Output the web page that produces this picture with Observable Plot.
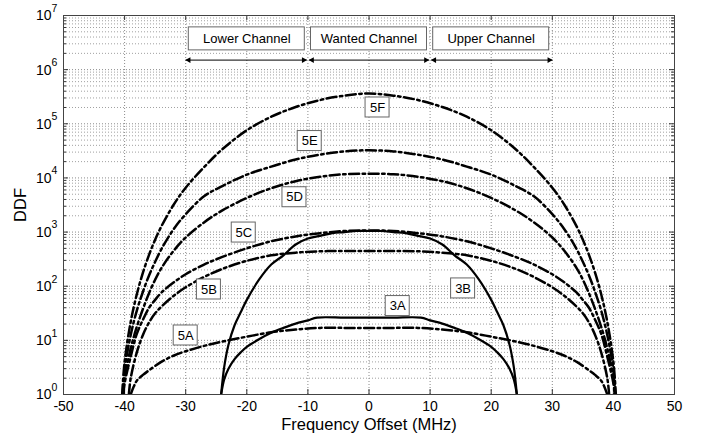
<!DOCTYPE html>
<html><head><meta charset="utf-8">
<script src="https://cdn.jsdelivr.net/npm/d3@7"></script>
<script src="https://cdn.jsdelivr.net/npm/@observablehq/plot@0.6"></script>
<style>body{margin:0;background:#fff}</style>
</head><body><div id="chart"></div>
<script>
// ---- data ----
const x5F = [-40.4,-40,-39,-38,-37,-36,-35,-34,-32,-30,-27,-24,-20,-16,-12,-8,-4,0,4,8,12,16,20,24,27,30,32,34,35,36,37,38,39,40,40.4];
const y5F = [1,4,22,71,178,380,724,1260,3160,6610,15800,33900,75900,135000,204000,275000,331000,363000,331000,275000,204000,135000,75900,33900,15800,6610,3160,1260,724,380,178,71,22,4,1];

const x5E = [-40.3,-40,-39,-38,-37,-36,-35,-34,-32,-30,-27,-24,-20,-16,-12,-8,-4,0,4,8,12,16,20,24,27,30,32,34,35,36,37,38,39,40,40.3];
const y5E = [1,2.8,12.6,35.5,79,158,282,479,1120,2140,4570,7080,11500,16200,21900,26900,30900,32400,30900,26900,21900,16200,11500,7080,4570,2140,1120,479,282,158,79,35.5,12.6,2.8,1];

const x5D = [-40.2,-40,-39,-38,-37,-36,-35,-34,-32,-30,-27,-24,-20,-16,-12,-8,-4,0,4,8,12,16,20,24,27,30,32,34,35,36,37,38,39,40,40.2];
const y5D = [1,2,7.1,17.8,38,74,132,214,447,794,1510,2510,4270,6460,8710,10500,11700,12000,11700,10500,8710,6460,4270,2510,1510,794,447,214,132,74,38,17.8,7.1,2,1];

const x5C = [-40.2,-40,-39,-38,-37,-36,-35,-34,-32,-30,-27,-24,-20,-16,-12,-8,-4,0,4,8,12,16,20,24,27,30,32,34,35,36,37,38,39,40,40.2];
const y5C = [1,1.6,5,13.2,24,40,56,76,117,166,251,347,501,676,832,955,1047,1070,1047,955,832,676,501,347,251,166,117,76,56,40,24,13.2,5,1.6,1];

const x5B = [-39.3,-39,-38,-37,-36,-35,-34,-32,-30,-27,-24,-20,-16,-12,-8,-4,0,4,8,12,16,20,24,27,30,32,34,35,36,37,38,39,39.3];
const y5B = [1,2,6,12.6,21.4,31.6,41.7,66,95.5,148,209,295,372,417,442,447,447,447,442,417,372,295,209,148,95.5,66,41.7,31.6,21.4,12.6,6,2,1];

const x5A = [-39,-38.5,-38,-37,-36,-34,-32,-30,-27,-24,-20,-16,-12,-8,-4,0,4,8,12,16,20,24,27,30,32,34,36,37,38,38.5,39];
const y5A = [1,1.4,1.8,2.3,2.8,4,5.2,6.3,7.9,9.5,11.7,14.1,15.8,17,17,17,17,17,15.8,14.1,11.7,9.5,7.9,6.3,5.2,4,2.8,2.3,1.8,1.4,1];

const x3B = [-24.2,-23.7,-23,-22,-21,-20,-18,-16,-14,-12,-10,-8,-6,-4,-2,0,2,4,6,8,10,12,14,16,18,20,21,22,23,23.7,24.2];
const y3B = [1,3.2,8.3,19,33,56,132,251,372,589,759,851,955,1000,1047,1047,1047,1000,955,851,759,589,372,251,132,56,33,19,8.3,3.2,1];

const x3A = [-24.2,-23.7,-23,-22,-21,-20,-18,-16,-14,-12,-10,-8.5,-4,0,4,8.5,10,12,14,16,18,20,21,22,23,23.7,24.2];
const y3A = [1,1.9,3,4.5,6,7.6,10.5,13.8,17,20.4,23.4,26.3,26.3,26.3,26.3,26.3,23.4,20.4,17,13.8,10.5,7.6,6,4.5,3,1.9,1];

const curveNames = ["5F","5E","5D","5C","5B","5A","3B","3A"];
const curveX = [x5F,x5E,x5D,x5C,x5B,x5A,x3B,x3A];
const curveY = [y5F,y5E,y5D,y5C,y5B,y5A,y3B,y3A];

// curve label boxes (data coordinates)
const labelNames = ["5F","5E","5D","5C","5B","5A","3A","3B"];
const labelX = [1.4,-9.7,-12.2,-20.5,-26.2,-30.0,4.7,15.4];
const labelY = [200000,48000,4400,980,87,12.3,43,91];

// channel annotations
const channelNames = ["Lower Channel","Wanted Channel","Upper Channel"];
const channelCenter = [-20,0,20];
const channelStart = [-30,-9.8,10.2];
const channelEnd = [-10.2,9.8,30];
const channelBoxY = 3.7e6;
const channelArrowY = 1.5e6;

// axes
const xTicks = [-50,-40,-30,-20,-10,0,10,20,30,40,50];
const yTickExp = [0,1,2,3,4,5,6,7];
const yTicks = yTickExp.map(e => Math.pow(10,e));
const yMinor = yTickExp.slice(0,-1).flatMap(e => [2,3,4,5,6,7,8,9].map(m => m*Math.pow(10,e)));
const xLabel = "Frequency Offset (MHz)";
const yLabel = "DDF";

// ---- build tables ----
const rows = [];
curveNames.forEach((n,k) => curveX[k].forEach((x,i) => rows.push({curve:n, dashed:n[0]==="5", x, y:curveY[k][i]})));
const labels = labelNames.map((t,i) => ({t, x:labelX[i], y:labelY[i]}));
const channels = channelNames.map((t,i) => ({t, c:channelCenter[i], a:channelStart[i], b:channelEnd[i]}));

const W = 713, H = 435, mL = 63, mR = 39, mT = 15, mB = 41;
const fw = W - mL - mR, fh = H - mT - mB;
const font = "'Liberation Sans', Arial, sans-serif";

const chart = Plot.plot({
  width: W, height: H,
  marginLeft: mL, marginRight: mR, marginTop: mT, marginBottom: mB,
  style: {fontFamily: font, background: "#fff", color: "#000", overflow: "visible"},
  x: {domain: [-50,50], axis: null},
  y: {type: "log", domain: [1,1e7], axis: null},
  marks: [
    Plot.gridY(yMinor, {stroke: "#a0a0a0", strokeOpacity: 1, strokeDasharray: "1,2"}),
    Plot.gridY(yTicks, {stroke: "#8a8a8a", strokeOpacity: 1, strokeDasharray: "1,2"}),
    Plot.gridX(xTicks, {stroke: "#8a8a8a", strokeOpacity: 1, strokeDasharray: "1,2"}),
    // inward ticks
    Plot.tickX(xTicks, {x: d => d, insetTop: fh - 5, stroke: "#333"}),
    Plot.tickX(xTicks, {x: d => d, insetBottom: fh - 5, stroke: "#333"}),
    Plot.tickY(yTicks, {y: d => d, insetRight: fw - 5, stroke: "#333"}),
    Plot.tickY(yTicks, {y: d => d, insetLeft: fw - 5, stroke: "#333"}),
    Plot.tickY(yMinor, {y: d => d, insetRight: fw - 3, stroke: "#333"}),
    Plot.tickY(yMinor, {y: d => d, insetLeft: fw - 3, stroke: "#333"}),
    Plot.frame({stroke: "#444"}),
    // curves
    Plot.line(rows.filter(d => d.dashed), {x: "x", y: "y", z: "curve", stroke: "#000", strokeWidth: 2.5,
      strokeDasharray: "10,3.5,2.5,3.5", curve: "catmull-rom", clip: true}),
    Plot.line(rows.filter(d => !d.dashed), {x: "x", y: "y", z: "curve", stroke: "#000", strokeWidth: 2.2,
      curve: "catmull-rom", clip: true}),
    // curve labels
    Plot.rect(labels, {x1: "x", x2: "x", y1: "y", y2: "y", insetLeft: -12, insetRight: -12, insetTop: -10, insetBottom: -10,
      fill: "#fff", stroke: "#666", strokeWidth: 1}),
    Plot.text(labels, {x: "x", y: "y", text: "t", fontSize: 13, fill: "#000"}),
    // channel annotations
    Plot.rect(channels, {x1: "c", x2: "c", y1: () => channelBoxY, y2: () => channelBoxY, insetLeft: -58, insetRight: -58,
      insetTop: -11.5, insetBottom: -11.5, fill: "#fff", stroke: "#666", strokeWidth: 1}),
    Plot.text(channels, {x: "c", y: () => channelBoxY, text: "t", fontSize: 13, fill: "#000"}),
    Plot.link(channels, {x1: "a", x2: "b", y1: () => channelArrowY, y2: () => channelArrowY, stroke: "#000", strokeWidth: 1}),
    Plot.dot(channels, {x: "b", y: () => channelArrowY, symbol: "triangle", rotate: 90, r: 2.2, dx: -3, fill: "#000", stroke: "none"}),
    Plot.dot(channels, {x: "a", y: () => channelArrowY, symbol: "triangle", rotate: -90, r: 2.2, dx: 3, fill: "#000", stroke: "none"}),
    // axis tick labels
    Plot.text(xTicks, {x: d => d, y: () => 1, text: d => String(d), dy: 12, fontSize: 14, fill: "#000"}),
    Plot.text(yTicks, {x: () => -50, y: d => d, text: () => "10", textAnchor: "end", dx: -12, dy: 0.5, fontSize: 14, fill: "#000"}),
    Plot.text(yTickExp, {x: () => -50, y: (d) => Math.pow(10,d), text: d => String(d), textAnchor: "start", dx: -12, dy: -7, fontSize: 10.5, fill: "#000"}),
    // axis titles
    Plot.text([xLabel], {frameAnchor: "bottom", text: d => d, lineAnchor: "middle", textAnchor: "middle", dy: 30, fontSize: 16.5, fill: "#000"}),
    Plot.text([yLabel], {frameAnchor: "left", text: d => d, lineAnchor: "middle", textAnchor: "middle", dx: -43, rotate: -90, fontSize: 16.5, fill: "#000"})
  ]
});
document.getElementById("chart").appendChild(chart);
</script>
</body></html>
